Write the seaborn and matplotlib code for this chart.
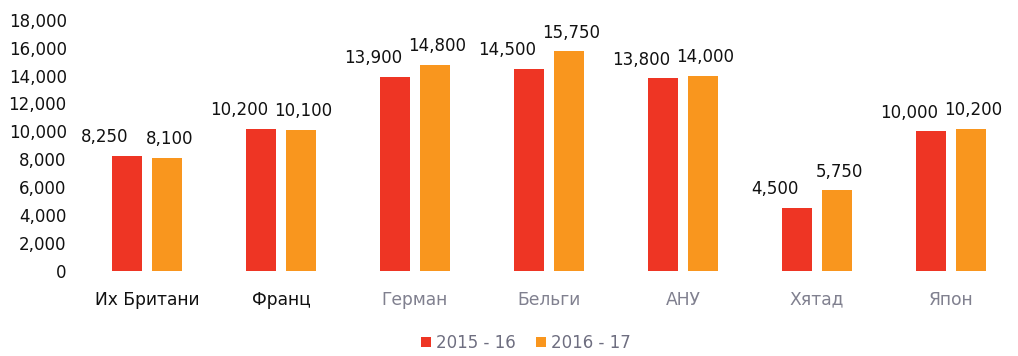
import matplotlib
matplotlib.use("Agg")
import matplotlib.pyplot as plt
import pandas as pd
import seaborn as sns

countries = ["Их Британи", "Франц", "Герман", "Бельги", "АНУ", "Хятад", "Япон"]
years = ["2015 - 16", "2016 - 17"]
values_2015_16 = [8250, 10200, 13900, 14500, 13800, 4500, 10000]
values_2016_17 = [8100, 10100, 14800, 15750, 14000, 5750, 10200]
y_ticks = [0, 2000, 4000, 6000, 8000, 10000, 12000, 14000, 16000, 18000]

colors = ["#EE3524", "#F9961E"]
label_colors = ["#111111", "#111111", "#80808F", "#80808F", "#80808F", "#80808F", "#80808F"]

df = pd.DataFrame({
    "country": countries * 2,
    "year": [years[0]] * len(countries) + [years[1]] * len(countries),
    "value": values_2015_16 + values_2016_17,
})

sns.set_theme(style="white")
plt.rcParams["font.family"] = ["DejaVu Sans"]

fig = plt.figure(figsize=(10.18, 3.56), dpi=100)
ax = fig.add_axes([75 / 1018, 1 - 270.5 / 356, (1010 - 75) / 1018, (270.5 - 20) / 356])

sns.barplot(data=df, x="country", y="value", hue="year", order=countries,
            hue_order=years, palette=colors, width=0.59, gap=0.24,
            saturation=1, linewidth=0, ax=ax, legend=True)

ax.set_xlim(-0.537, 6.44)
ax.set_ylim(0, 18000)
ax.set_yticks(y_ticks)
ax.set_yticklabels([f"{v:,}" for v in y_ticks])
ax.set_xlabel("")
ax.set_ylabel("")
for s in ax.spines.values():
    s.set_visible(False)
ax.grid(False)
ax.tick_params(axis="y", length=0, pad=6, labelsize=12, labelcolor="#111111")
ax.tick_params(axis="x", length=0, pad=24.5, labelsize=12.3)
for lbl, c in zip(ax.get_xticklabels(), label_colors):
    lbl.set_color(c)
    lbl.set_verticalalignment("baseline")

# value labels: first series shifted left so the pair does not collide
offsets = [-16, 2]
for container, off in zip(ax.containers, offsets):
    for bar in container:
        h = bar.get_height()
        ax.annotate(f"{h:,.0f}", (bar.get_x() + bar.get_width() / 2, h),
                    xytext=(off, 7), textcoords="offset points",
                    ha="center", va="bottom", fontsize=12, color="#111111")

handles, labels = ax.get_legend_handles_labels()
ax.get_legend().remove()
fig.legend(handles, labels, loc="center", bbox_to_anchor=(526 / 1018, 1 - 343 / 356),
           ncol=2, frameon=False, fontsize=12, labelcolor="#6E6E80",
           handlelength=0.6, handleheight=0.6, handletextpad=0.3,
           columnspacing=1.2)

fig.savefig("out.png", dpi=100)
